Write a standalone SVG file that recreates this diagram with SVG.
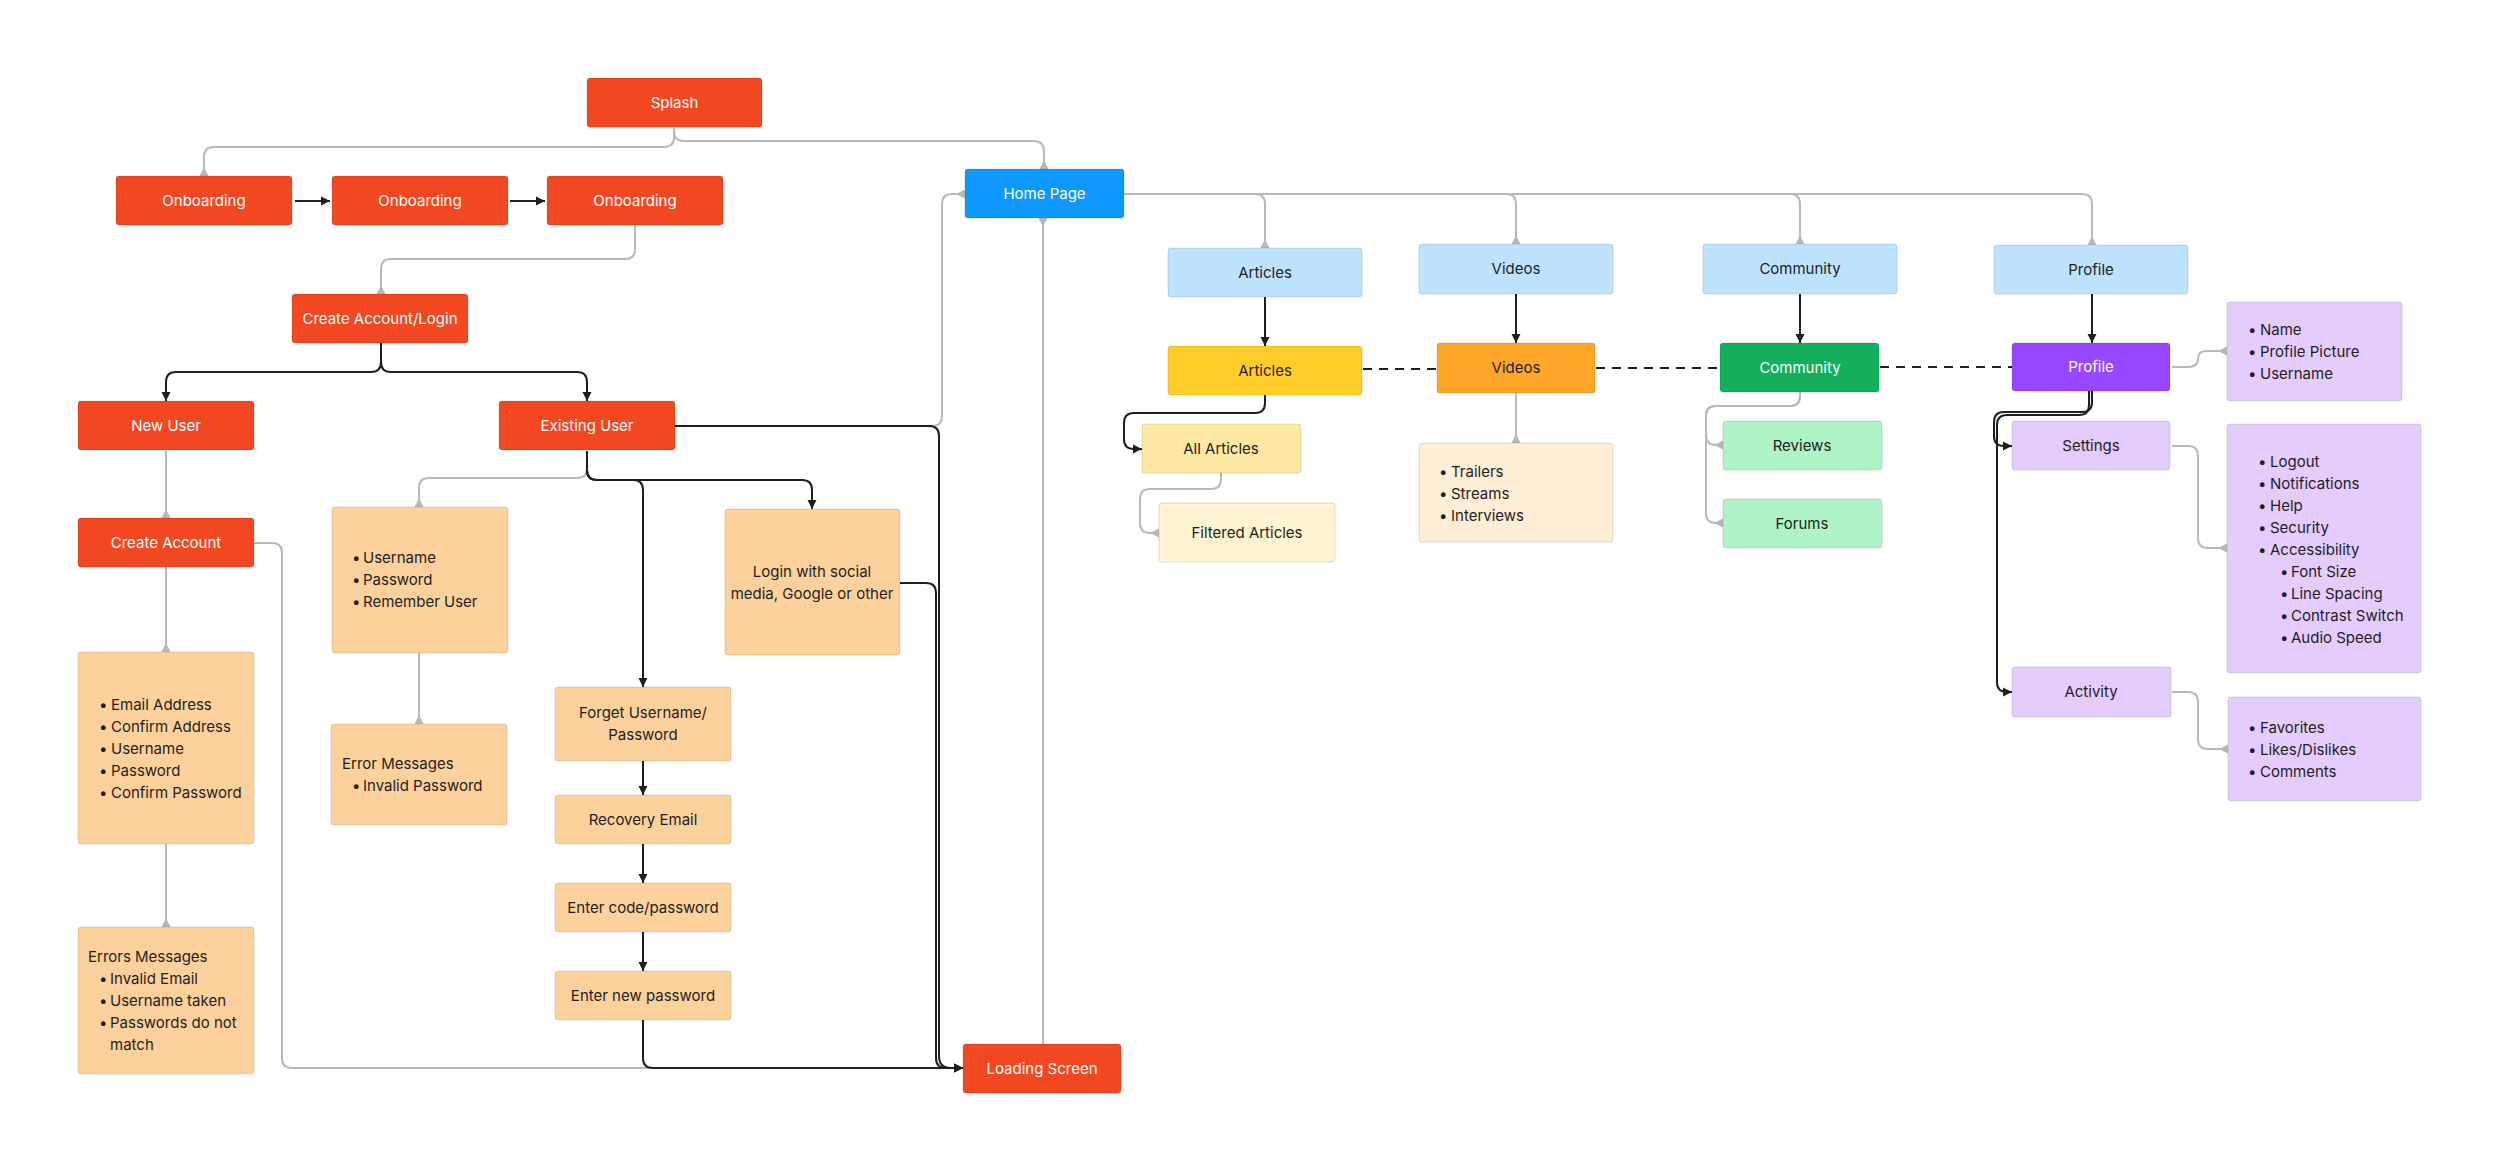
<svg xmlns="http://www.w3.org/2000/svg" width="2500" height="1172" viewBox="0 0 2500 1172">
<style>
text{font-family:Inter,"Noto Sans","Liberation Sans",sans-serif;font-size:15px;fill:#1E1E1E}
.c{text-anchor:middle}
.w{fill:#FFFFFF}
rect{stroke:rgba(0,0,0,0.12);stroke-width:1}
rect.bg{stroke:none;fill:#FFFFFF}
.red{fill:#F24822}
.lo{fill:#FCD19C}
.blue{fill:#0D99FF}
.lb{fill:#BDE3FF}
.yel{fill:#FFCD29}
.ly{fill:#FFE8A3}
.lly{fill:#FFF3D1}
.org{fill:#FFA629}
.llo{fill:#FFEDD5}
.grn{fill:#14AE5C}
.lg{fill:#AFF4C6}
.pur{fill:#9747FF}
.lp{fill:#E4CCFF}
.g{fill:none;stroke:#B8B8B8;stroke-width:2;marker-end:url(#ga)}
.gn{fill:none;stroke:#B8B8B8;stroke-width:2}
.k{fill:none;stroke:#1E1E1E;stroke-width:2;marker-end:url(#ka)}
.d{fill:none;stroke:#1E1E1E;stroke-width:2;stroke-dasharray:9 7}
</style>
<defs>
<marker id="ga" markerUnits="userSpaceOnUse" viewBox="-10 -6 12 12" refX="0" refY="0" markerWidth="12" markerHeight="12" orient="auto">
<path d="M0,-4.5 L0,4.5 L-9,0 Z" fill="#B8B8B8"/>
</marker>
<marker id="ka" markerUnits="userSpaceOnUse" viewBox="-10 -6 12 12" refX="0" refY="0" markerWidth="12" markerHeight="12" orient="auto">
<path d="M-9,-4.5 L0,0 L-9,4.5 Z" fill="#1E1E1E"/>
</marker>
</defs>
<rect class="bg" x="0" y="0" width="2500" height="1172"/>
<g id="connectors">
<path class="g" d="M674,128 V137 Q674,147 664,147 H214 Q204,147 204,157 V176"/>
<path class="g" d="M674,128 V131 Q674,141 684,141 H1033 Q1044,141 1044,151 V169"/>
<path class="g" d="M635,225 V249 Q635,259 625,259 H391 Q381,259 381,269 V294"/>
<path class="g" d="M166,451 V518"/>
<path class="g" d="M166,567 V652"/>
<path class="g" d="M166,844 V927"/>
<path class="gn" d="M254,543 H272 Q282,543 282,553 V1058 Q282,1068 292,1068 H950"/>
<path class="g" d="M587,451 V468 Q587,478 577,478 H429 Q419,478 419,488 V507"/>
<path class="g" d="M419,653 V724"/>
<path class="g" d="M675,426 H932 Q942,426 942,416 V204 Q942,194 952,194 H965"/>
<path class="g" d="M1043,1044 V218"/>
<path class="g" d="M1124,194 H1255 Q1265,194 1265,204 V248"/>
<path class="g" d="M1124,194 H1506 Q1516,194 1516,204 V244"/>
<path class="g" d="M1124,194 H1790 Q1800,194 1800,204 V244"/>
<path class="g" d="M1124,194 H2082 Q2092,194 2092,204 V245"/>
<path class="g" d="M1516,393 V443"/>
<path class="g" d="M1221,473 V479 Q1221,489 1211,489 H1150 Q1140,489 1140,499 V523 Q1140,533 1150,533 H1159"/>
<path class="g" d="M1800,392 V396 Q1800,406 1790,406 H1716 Q1706,406 1706,416 V435 Q1706,445 1716,445 H1723"/>
<path class="g" d="M1800,392 V396 Q1800,406 1790,406 H1716 Q1706,406 1706,416 V513 Q1706,523 1716,523 H1723"/>
<path class="g" d="M2172,367 H2188 Q2198,367 2198,359 Q2198,351 2206,351 H2227"/>
<path class="g" d="M2172,446 H2188 Q2198,446 2198,456 V538 Q2198,548 2208,548 H2227"/>
<path class="g" d="M2172,692 H2188 Q2198,692 2198,702 V739 Q2198,749 2208,749 H2228"/>
<path class="k" d="M295,201 H330"/>
<path class="k" d="M510,201 H545"/>
<path class="k" d="M381,343 V362 Q381,372 371,372 H176 Q166,372 166,382 V401"/>
<path class="k" d="M381,343 V362 Q381,372 391,372 H577 Q587,372 587,382 V401"/>
<path class="k" d="M587,451 V470 Q587,480 597,480 H633 Q643,480 643,490 V687"/>
<path class="k" d="M587,451 V470 Q587,480 597,480 H802 Q812,480 812,490 V509"/>
<path class="k" d="M675,426 H929 Q939,426 939,436 V1056 Q939,1068 951,1068 H963"/>
<path class="k" d="M900,583 H926 Q936,583 936,593 V1058 Q936,1068 946,1068 H963"/>
<path class="k" d="M643,761 V795"/>
<path class="k" d="M643,844 V883"/>
<path class="k" d="M643,932 V971"/>
<path class="k" d="M643,1020 V1058 Q643,1068 653,1068 H963"/>
<path class="k" d="M1265,297 V346"/>
<path class="k" d="M1516,294 V343"/>
<path class="k" d="M1800,294 V343"/>
<path class="k" d="M2092,294 V343"/>
<path class="k" d="M1265,395 V403 Q1265,413 1255,413 H1134 Q1124,413 1124,423 V439 Q1124,449 1134,449 H1142"/>
<path class="k" d="M2092,391 V402 Q2092,412 2082,412 H2004 Q1994,412 1994,422 V436 Q1994,446 2004,446 H2012"/>
<path class="k" d="M2089,391 V405 Q2089,415 2079,415 H2007 Q1997,415 1997,425 V682 Q1997,692 2007,692 H2012"/>
<path class="d" d="M1363,369 H1437"/>
<path class="d" d="M1596,368 H1720"/>
<path class="d" d="M1880,367 H2012"/>
</g>
<g id="splash"><rect class="red" x="587" y="78" width="175" height="49" rx="3"/><text class="c w" x="674.5" y="108">Splash</text></g>
<g id="onboarding1"><rect class="red" x="116" y="176" width="176" height="49" rx="3"/><text class="c w" x="204" y="206">Onboarding</text></g>
<g id="onboarding2"><rect class="red" x="332" y="176" width="176" height="49" rx="3"/><text class="c w" x="420" y="206">Onboarding</text></g>
<g id="onboarding3"><rect class="red" x="547" y="176" width="176" height="49" rx="3"/><text class="c w" x="635" y="206">Onboarding</text></g>
<g id="create-login"><rect class="red" x="292" y="294" width="176" height="49" rx="3"/><text class="c w" x="380" y="324">Create Account/Login</text></g>
<g id="new-user"><rect class="red" x="78" y="401" width="176" height="49" rx="3"/><text class="c w" x="166" y="431">New User</text></g>
<g id="existing-user"><rect class="red" x="499" y="401" width="176" height="49" rx="3"/><text class="c w" x="587" y="431">Existing User</text></g>
<g id="create-account"><rect class="red" x="78" y="518" width="176" height="49" rx="3"/><text class="c w" x="166" y="548">Create Account</text></g>
<g id="signup-fields"><rect class="lo" x="78" y="652" width="176" height="192" rx="3"/>
<text x="99" y="710">•</text><text x="111" y="710">Email Address</text>
<text x="99" y="732">•</text><text x="111" y="732">Confirm Address</text>
<text x="99" y="754">•</text><text x="111" y="754">Username</text>
<text x="99" y="776">•</text><text x="111" y="776">Password</text>
<text x="99" y="798">•</text><text x="111" y="798">Confirm Password</text></g>
<g id="signup-errors"><rect class="lo" x="78" y="927" width="176" height="147" rx="3"/>
<text x="88" y="962">Errors Messages</text>
<text x="99" y="984">•</text><text x="110" y="984">Invalid Email</text>
<text x="99" y="1006">•</text><text x="110" y="1006">Username taken</text>
<text x="99" y="1028">•</text><text x="110" y="1028">Passwords do not</text>
<text x="110" y="1050">match</text></g>
<g id="login-fields"><rect class="lo" x="332" y="507" width="176" height="146" rx="3"/>
<text x="352" y="563">•</text><text x="363" y="563">Username</text>
<text x="352" y="585">•</text><text x="363" y="585">Password</text>
<text x="352" y="607">•</text><text x="363" y="607">Remember User</text></g>
<g id="login-errors"><rect class="lo" x="331" y="724" width="176" height="101" rx="3"/>
<text x="342" y="769">Error Messages</text>
<text x="352" y="791">•</text><text x="363" y="791">Invalid Password</text></g>
<g id="forget"><rect class="lo" x="555" y="687" width="176" height="74" rx="3"/>
<text class="c" x="643" y="718">Forget Username/</text><text class="c" x="643" y="740">Password</text></g>
<g id="recovery"><rect class="lo" x="555" y="795" width="176" height="49" rx="3"/><text class="c" x="643" y="825">Recovery Email</text></g>
<g id="enter-code"><rect class="lo" x="555" y="883" width="176" height="49" rx="3"/><text class="c" x="643" y="913">Enter code/password</text></g>
<g id="enter-new"><rect class="lo" x="555" y="971" width="176" height="49" rx="3"/><text class="c" x="643" y="1001">Enter new password</text></g>
<g id="social-login"><rect class="lo" x="725" y="509" width="175" height="146" rx="3"/>
<text class="c" x="812" y="577">Login with social</text><text class="c" x="812" y="599">media, Google or other</text></g>
<g id="loading"><rect class="red" x="963" y="1044" width="158" height="49" rx="3"/><text class="c w" x="1042" y="1074">Loading Screen</text></g>
<g id="home"><rect class="blue" x="965" y="169" width="159" height="49" rx="3"/><text class="c w" x="1044.5" y="199">Home Page</text></g>
<g id="articles-nav"><rect class="lb" x="1168" y="248" width="194" height="49" rx="3"/><text class="c" x="1265" y="278">Articles</text></g>
<g id="videos-nav"><rect class="lb" x="1419" y="244" width="194" height="50" rx="3"/><text class="c" x="1516" y="274">Videos</text></g>
<g id="community-nav"><rect class="lb" x="1703" y="244" width="194" height="50" rx="3"/><text class="c" x="1800" y="274">Community</text></g>
<g id="profile-nav"><rect class="lb" x="1994" y="245" width="194" height="49" rx="3"/><text class="c" x="2091" y="275">Profile</text></g>
<g id="articles"><rect class="yel" x="1168" y="346" width="194" height="49" rx="3"/><text class="c" x="1265" y="376">Articles</text></g>
<g id="videos"><rect class="org" x="1437" y="343" width="158" height="50" rx="3"/><text class="c" x="1516" y="373">Videos</text></g>
<g id="community"><rect class="grn" x="1720" y="343" width="159" height="49" rx="3"/><text class="c w" x="1800" y="373">Community</text></g>
<g id="profile"><rect class="pur" x="2012" y="343" width="158" height="48" rx="3"/><text class="c w" x="2091" y="372">Profile</text></g>
<g id="all-articles"><rect class="ly" x="1142" y="424" width="159" height="49" rx="3"/><text class="c" x="1221" y="454">All Articles</text></g>
<g id="filtered-articles"><rect class="lly" x="1159" y="503" width="176" height="59" rx="3"/><text class="c" x="1247" y="538">Filtered Articles</text></g>
<g id="video-types"><rect class="llo" x="1419" y="443" width="194" height="99" rx="3"/>
<text x="1439" y="477">•</text><text x="1451" y="477">Trailers</text>
<text x="1439" y="499">•</text><text x="1451" y="499">Streams</text>
<text x="1439" y="521">•</text><text x="1451" y="521">Interviews</text></g>
<g id="reviews"><rect class="lg" x="1723" y="421" width="159" height="49" rx="3"/><text class="c" x="1802" y="451">Reviews</text></g>
<g id="forums"><rect class="lg" x="1723" y="499" width="159" height="49" rx="3"/><text class="c" x="1802" y="529">Forums</text></g>
<g id="profile-info"><rect class="lp" x="2227" y="302" width="175" height="99" rx="3"/>
<text x="2248" y="335">•</text><text x="2260" y="335">Name</text>
<text x="2248" y="357">•</text><text x="2260" y="357">Profile Picture</text>
<text x="2248" y="379">•</text><text x="2260" y="379">Username</text></g>
<g id="settings"><rect class="lp" x="2012" y="421" width="158" height="49" rx="3"/><text class="c" x="2091" y="451">Settings</text></g>
<g id="settings-list"><rect class="lp" x="2227" y="424" width="194" height="249" rx="3"/>
<text x="2258" y="467">•</text><text x="2270" y="467">Logout</text>
<text x="2258" y="489">•</text><text x="2270" y="489">Notifications</text>
<text x="2258" y="511">•</text><text x="2270" y="511">Help</text>
<text x="2258" y="533">•</text><text x="2270" y="533">Security</text>
<text x="2258" y="555">•</text><text x="2270" y="555">Accessibility</text>
<text x="2280" y="577">•</text><text x="2291" y="577">Font Size</text>
<text x="2280" y="599">•</text><text x="2291" y="599">Line Spacing</text>
<text x="2280" y="621">•</text><text x="2291" y="621">Contrast Switch</text>
<text x="2280" y="643">•</text><text x="2291" y="643">Audio Speed</text></g>
<g id="activity"><rect class="lp" x="2012" y="667" width="159" height="50" rx="3"/><text class="c" x="2091" y="697">Activity</text></g>
<g id="activity-list"><rect class="lp" x="2228" y="697" width="193" height="104" rx="3"/>
<text x="2248" y="733">•</text><text x="2260" y="733">Favorites</text>
<text x="2248" y="755">•</text><text x="2260" y="755">Likes/Dislikes</text>
<text x="2248" y="777">•</text><text x="2260" y="777">Comments</text></g>
</svg>
